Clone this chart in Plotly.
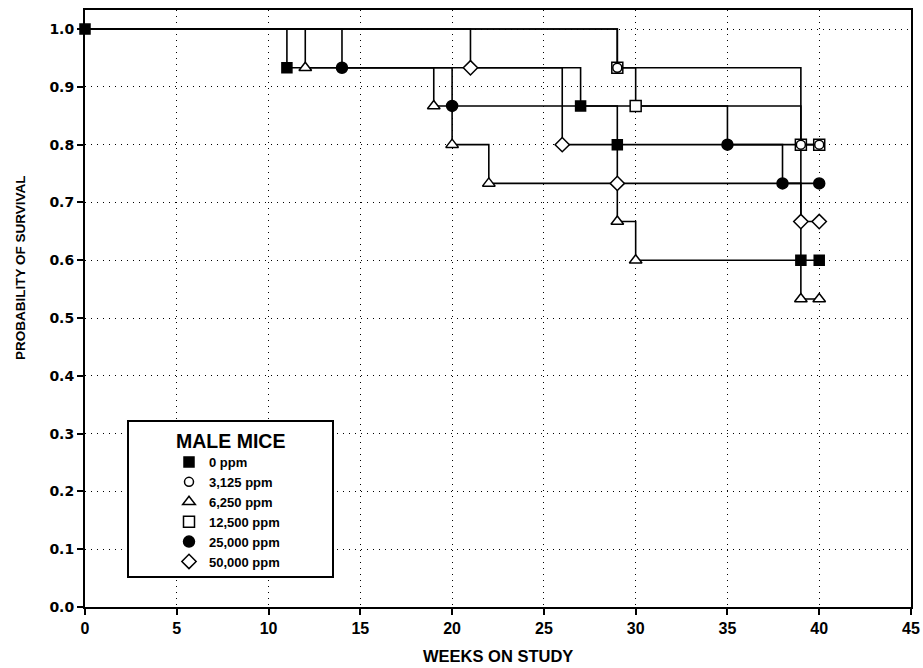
import plotly.graph_objects as go

# ---- data ----
series_names = ["0 ppm", "3,125 ppm", "6,250 ppm", "12,500 ppm", "25,000 ppm", "50,000 ppm"]

t_0 = [0, 11, 27, 29, 39, 40]
s_0 = [1.0, 0.933, 0.867, 0.8, 0.6, 0.6]

t_3125 = [0, 29, 39, 40]
s_3125 = [1.0, 0.933, 0.8, 0.8]

t_6250 = [0, 12, 19, 20, 22, 29, 30, 39, 40]
s_6250 = [1.0, 0.933, 0.867, 0.8, 0.733, 0.667, 0.6, 0.533, 0.533]

t_12500 = [0, 29, 30, 39, 40]
s_12500 = [1.0, 0.933, 0.867, 0.8, 0.8]

t_25000 = [0, 14, 20, 35, 38, 40]
s_25000 = [1.0, 0.933, 0.867, 0.8, 0.733, 0.733]

t_50000 = [0, 21, 26, 29, 39, 40]
s_50000 = [1.0, 0.933, 0.8, 0.733, 0.667, 0.667]

x_ticks = [0, 5, 10, 15, 20, 25, 30, 35, 40, 45]
y_ticks = [0.0, 0.1, 0.2, 0.3, 0.4, 0.5, 0.6, 0.7, 0.8, 0.9, 1.0]

# ---- styles ----
series = [
    # name, t, s, symbol, fill, size, rank, show start marker
    (series_names[0], t_0, s_0, "square", "black", 10, 1, True),
    (series_names[1], t_3125, s_3125, "circle", "white", 9, 2, False),
    (series_names[2], t_6250, s_6250, "triangle-up", "white", 11, 3, False),
    (series_names[3], t_12500, s_12500, "square", "white", 11, 4, False),
    (series_names[4], t_25000, s_25000, "circle", "black", 11, 5, False),
    (series_names[5], t_50000, s_50000, "diamond", "white", 11, 6, False),
]

fig = go.Figure()

# step lines
for name, t, s, sym, fill, size, rank, start in series:
    fig.add_trace(go.Scatter(
        x=t, y=s, mode="lines", line=dict(shape="hv", color="black", width=1.6),
        showlegend=False, hoverinfo="skip", cliponaxis=False))

# markers (12,500 before 3,125 so the circle nests inside the square)
draw_order = [0, 2, 3, 1, 4, 5]
for i in draw_order:
    name, t, s, sym, fill, size, rank, start = series[i]
    xs = t if start else t[1:]
    ys = s if start else s[1:]
    fig.add_trace(go.Scatter(
        x=xs, y=ys, mode="markers", name=name, legendrank=rank,
        marker=dict(symbol=sym, size=size, color=fill,
                    line=dict(color="black", width=1.5)),
        cliponaxis=False))

L, R, T, B = 85, 12, 10, 61
W, H = 923, 668
pw, ph = W - L - R, H - T - B

def px_x(p):
    return (p - L) / pw

def px_y(p):
    return (H - B - p) / ph

FONT = "Liberation Sans, Arial, sans-serif"

fig.update_layout(
    width=W, height=H,
    margin=dict(l=L, r=R, t=T, b=B, autoexpand=False),
    paper_bgcolor="white", plot_bgcolor="white",
    showlegend=True,
    legend=dict(x=px_x(169), y=px_y(447), xanchor="left", yanchor="top",
                bgcolor="rgba(0,0,0,0)", borderwidth=0, itemwidth=30,
                font=dict(family=FONT, size=13, color="black", weight="bold"),
                traceorder="normal"),
    shapes=[dict(type="rect", xref="paper", yref="paper",
                 x0=px_x(128), x1=px_x(333), y0=px_y(577), y1=px_y(421),
                 line=dict(color="black", width=2), fillcolor="white",
                 layer="above")],
    annotations=[
        dict(text="MALE MICE", xref="paper", yref="paper",
             x=px_x(230), y=px_y(441), xanchor="center", yanchor="middle",
             showarrow=False,
             font=dict(family=FONT, size=19.5, color="black", weight="bold")),
        dict(text="WEEKS ON STUDY", xref="paper", yref="paper",
             x=0.5, y=px_y(656), xanchor="center", yanchor="middle",
             showarrow=False,
             font=dict(family=FONT, size=16.5, color="black", weight="bold")),
        dict(text="PROBABILITY OF SURVIVAL", xref="paper", yref="paper",
             x=px_x(20), y=px_y(268), xanchor="center", yanchor="middle",
             textangle=-90, showarrow=False,
             font=dict(family=FONT, size=13.5, color="black", weight="bold")),
    ],
)

fig.update_xaxes(
    range=[0, 45], tickvals=x_ticks, ticktext=[str(v) for v in x_ticks],
    automargin=False,
    showline=True, linecolor="black", linewidth=2, mirror=True,
    ticks="outside", ticklen=6, tickwidth=1.5, tickcolor="black",
    showgrid=True, gridcolor="black", gridwidth=1, griddash="1px,5px",
    zeroline=False,
    tickfont=dict(family=FONT, size=16, color="black", weight="bold"),
)
fig.update_yaxes(
    range=[0, 1.033], tickvals=y_ticks, ticktext=[f"{v:.1f}" for v in y_ticks],
    automargin=False,
    showline=True, linecolor="black", linewidth=2, mirror=True,
    ticks="outside", ticklen=6, tickwidth=1.5, tickcolor="black",
    showgrid=True, gridcolor="black", gridwidth=1, griddash="1px,5px",
    zeroline=False,
    tickfont=dict(family="DejaVu Sans, sans-serif", size=14, color="black",
                  weight="bold"),
)

fig.write_html("out.html", config={"displayModeBar": False},
               post_script="document.body.style.margin='0';")
